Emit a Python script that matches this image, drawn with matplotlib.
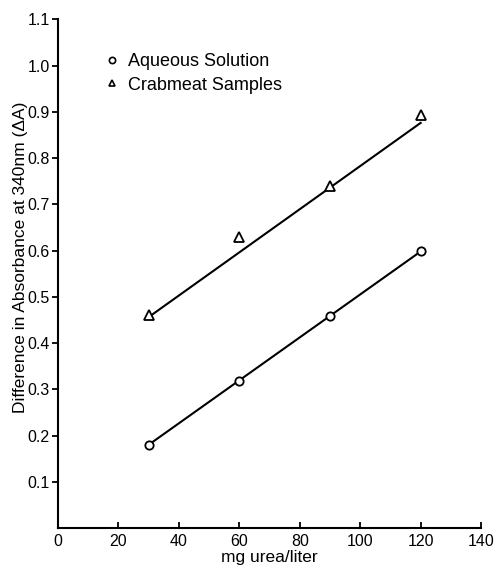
import matplotlib.pyplot as plt
from matplotlib.lines import Line2D

plt.rcParams["font.family"] = ["Liberation Sans", "DejaVu Sans"]
plt.rcParams["font.size"] = 11.5

# urea concentration (mg/liter)
urea = [30, 60, 90, 120]
aqueous = [0.18, 0.318, 0.458, 0.598]
crabmeat = [0.46, 0.63, 0.74, 0.893]

# drawn calibration lines
fit_x = [30, 120]
aqueous_fit = [0.18, 0.598]
crabmeat_fit = [0.456, 0.876]

x_ticks = [0, 20, 40, 60, 80, 100, 120, 140]
y_ticks = [0.1, 0.2, 0.3, 0.4, 0.5, 0.6, 0.7, 0.8, 0.9, 1.0, 1.1]

fig = plt.figure(figsize=(4.95, 5.66), dpi=100)
ax = fig.add_axes([0.117, 0.067, 0.855, 0.899])

ax.plot(fit_x, aqueous_fit, color="black", lw=1.5)
ax.plot(fit_x, crabmeat_fit, color="black", lw=1.5)
ax.plot(urea, aqueous, "o", ms=6, mfc="white", mec="black", mew=1.3)
ax.plot(urea, crabmeat, "^", ms=6.5, mfc="white", mec="black", mew=1.3)

ax.set_xlim(0, 140)
ax.set_ylim(0, 1.1)
ax.set_xticks(x_ticks)
ax.set_yticks(y_ticks)
ax.set_yticklabels([f"{v:.1f}" for v in y_ticks])
ax.tick_params(axis="x", direction="in", length=4, width=1.3, pad=4)
ax.tick_params(axis="y", direction="out", length=4, width=1.3, pad=2)

for side in ("top", "right"):
    ax.spines[side].set_visible(False)
for side in ("left", "bottom"):
    ax.spines[side].set_linewidth(1.5)

ax.set_xlabel("mg urea/liter", fontsize=12.5, labelpad=1)
ax.set_ylabel("Difference in Absorbance at 340nm (\u0394A)", fontsize=12.5)
ax.yaxis.set_label_coords(-0.071, 0.532)

handles = [
    Line2D([], [], ls="none", marker="o", ms=4.5, mfc="white", mec="black", mew=1.2),
    Line2D([], [], ls="none", marker="^", ms=5, mfc="white", mec="black", mew=1.2),
]
ax.legend(handles, ["Aqueous Solution", "Crabmeat Samples"], loc="upper left",
          bbox_to_anchor=(0.096, 0.951), frameon=False, fontsize=13,
          handlelength=0.5, handletextpad=0.63, labelspacing=0.35, borderpad=0)

fig.savefig("out.png", dpi=100)
